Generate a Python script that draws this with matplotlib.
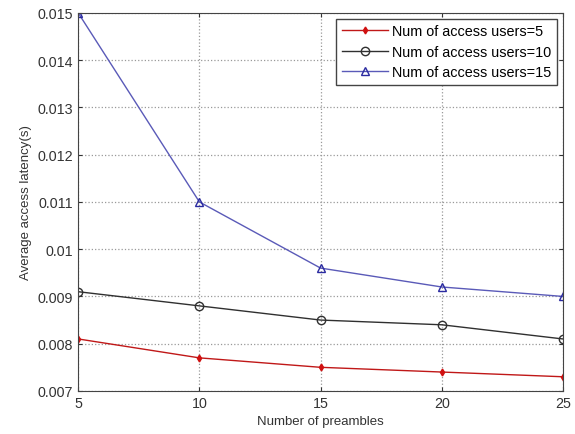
import numpy as np
import matplotlib
matplotlib.use("Agg")
import matplotlib.pyplot as plt

plt.rcParams['font.family'] = ['Liberation Sans', 'DejaVu Sans']

# data
preambles = [5, 10, 15, 20, 25]
users5 = [0.0081, 0.0077, 0.0075, 0.0074, 0.0073]
users10 = [0.0091, 0.0088, 0.0085, 0.0084, 0.0081]
users15 = [0.0150, 0.0110, 0.0096, 0.0092, 0.0090]
labels = ['Num of access users=5', 'Num of access users=10', 'Num of access users=15']

fig = plt.figure(figsize=(5.75, 4.35), dpi=100)
ax = fig.add_axes([0.136, 0.099, 0.843, 0.869])

ax.plot(preambles, users5, color='#c01818', marker='d', markersize=3.5,
        markerfacecolor='#d01010', markeredgecolor='#d01010', linewidth=1, label=labels[0])
ax.plot(preambles, users10, color='#303030', marker='o', markersize=6,
        markerfacecolor='none', linewidth=1, label=labels[1])
ax.plot(preambles, users15, color='#5a5ab8', marker='^', markersize=6,
        markerfacecolor='none', markeredgecolor='#2a2aa0', linewidth=1, label=labels[2])

ax.set_xlim(5, 25)
ax.set_ylim(0.007, 0.015)
ax.set_xticks(preambles)
ax.set_yticks(np.arange(0.007, 0.0151, 0.001))
ax.set_yticklabels(['0.007', '0.008', '0.009', '0.01', '0.011', '0.012', '0.013', '0.014', '0.015'])
ax.grid(True, linestyle=':', color='#999999', linewidth=0.9)
ax.tick_params(direction='in', labelsize=10.3, colors='#333333', top=True, right=True, length=3)
for s in ax.spines.values():
    s.set_color('#444444')

ax.set_xlabel('Number of preambles', fontsize=9.5, color='#333333')
ax.set_ylabel('Average access latency(s)', fontsize=9.5, color='#333333')

leg = ax.legend(loc='upper right', fontsize=10.4, fancybox=False, framealpha=1,
                edgecolor='#444444', handlelength=3.2, labelspacing=0.45,
                handletextpad=0.3, borderaxespad=0.4)
leg.get_frame().set_linewidth(1)

fig.savefig('out.png', dpi=100)
